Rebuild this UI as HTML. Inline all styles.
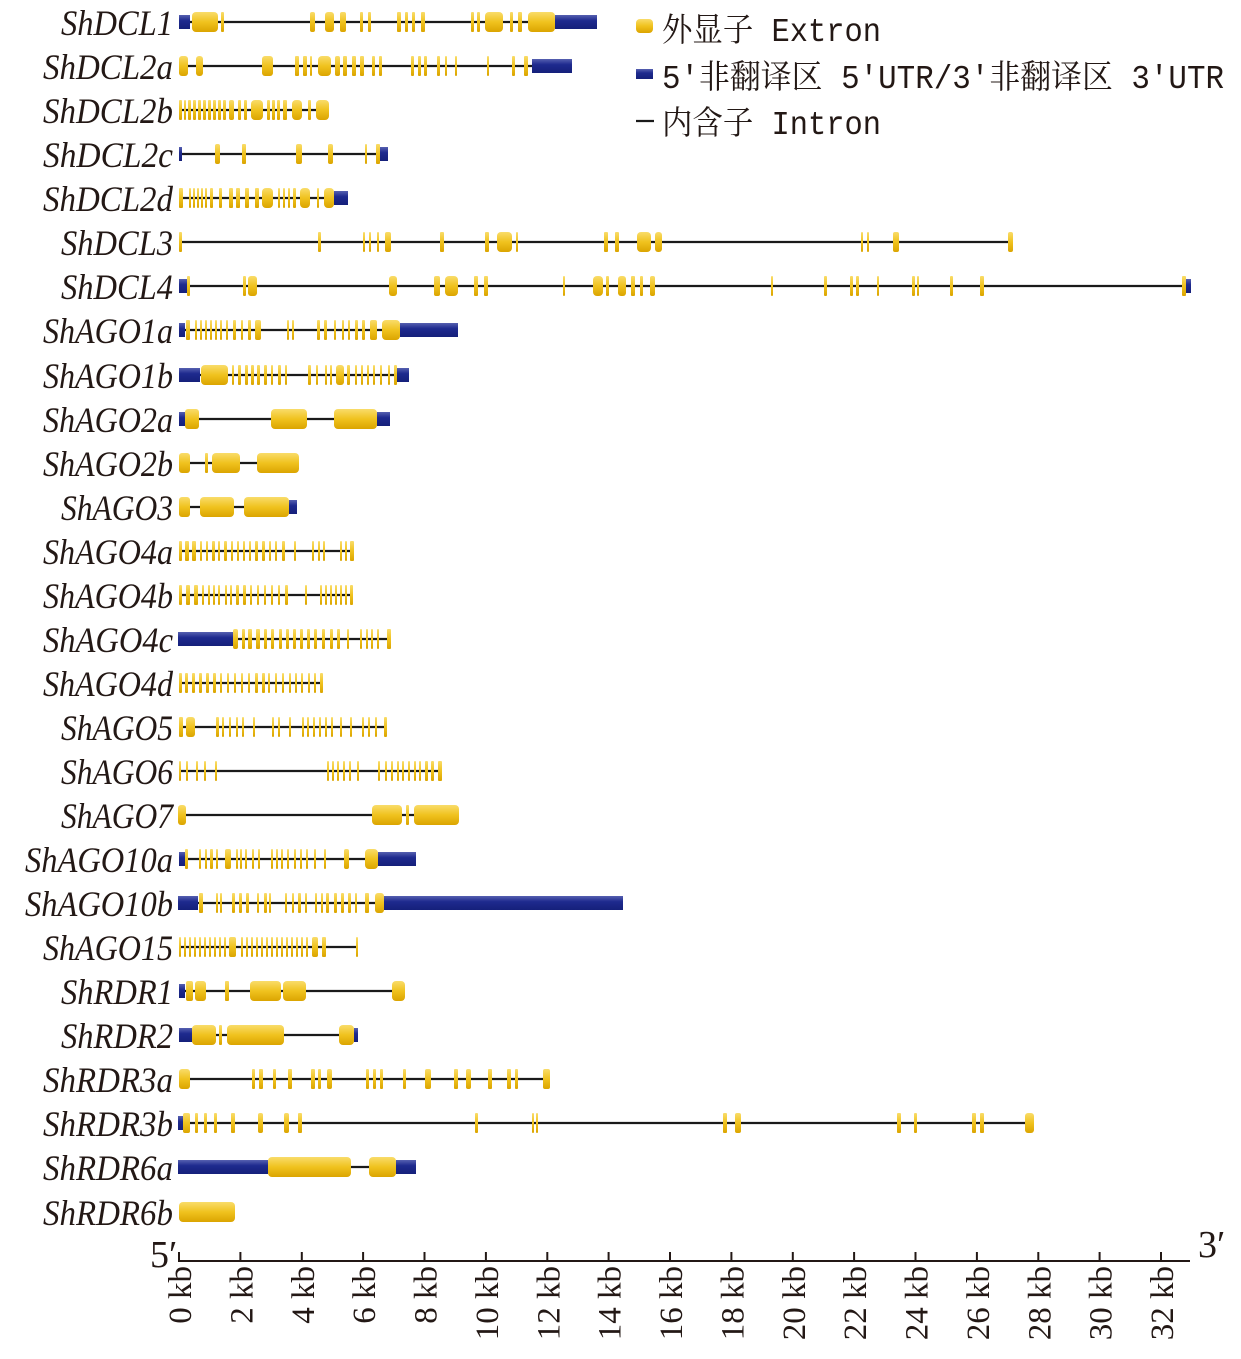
<!DOCTYPE html>
<html><head><meta charset="utf-8"><style>
html,body{margin:0;padding:0;background:#fff}
svg{display:block}
.e{fill:url(#gy)}
.u{fill:url(#gb)}
.l{stroke:#1a1a1a;stroke-width:2.2}
.g{font-family:"Liberation Serif",serif;font-style:italic;font-size:36px;fill:#231815}
.ax{font-family:"Liberation Serif",serif;font-size:33px;fill:#231815}
.lg{font-family:"Liberation Mono","Noto Serif CJK SC",monospace;font-size:33px;fill:#231815}
</style></head><body>
<svg width="1241" height="1359" viewBox="0 0 1241 1359" xmlns="http://www.w3.org/2000/svg">
<defs>
<linearGradient id="gy" x1="0" y1="0" x2="0" y2="1"><stop offset="0" stop-color="#f9dc6a"/><stop offset="0.5" stop-color="#f0c21e"/><stop offset="1" stop-color="#dba400"/></linearGradient>
<linearGradient id="gb" x1="0" y1="0" x2="0" y2="1"><stop offset="0" stop-color="#5660b0"/><stop offset="0.4" stop-color="#1e2a8e"/><stop offset="1" stop-color="#15207a"/></linearGradient>
</defs>

<!-- legend -->
<rect x="636" y="19" width="17" height="14" rx="4" class="e"/>
<text x="662" y="41" class="lg" textLength="219" lengthAdjust="spacingAndGlyphs">外显子 Extron</text>
<rect x="636" y="69" width="17" height="10" class="u"/>
<text x="662" y="88" class="lg" textLength="562" lengthAdjust="spacingAndGlyphs">5′非翻译区 5′UTR/3′非翻译区 3′UTR</text>
<line x1="636" y1="121" x2="654" y2="121" class="l"/>
<text x="662" y="134" class="lg" textLength="219" lengthAdjust="spacingAndGlyphs">内含子 Intron</text>

<!-- gene labels -->
<g class="g" lengthAdjust="spacingAndGlyphs">
<text x="61" y="35" textLength="112" lengthAdjust="spacingAndGlyphs">ShDCL1</text>
<text x="43" y="79" textLength="130" lengthAdjust="spacingAndGlyphs">ShDCL2a</text>
<text x="43" y="123" textLength="130" lengthAdjust="spacingAndGlyphs">ShDCL2b</text>
<text x="43" y="167" textLength="130" lengthAdjust="spacingAndGlyphs">ShDCL2c</text>
<text x="43" y="211" textLength="130" lengthAdjust="spacingAndGlyphs">ShDCL2d</text>
<text x="61" y="255" textLength="112" lengthAdjust="spacingAndGlyphs">ShDCL3</text>
<text x="61" y="299" textLength="112" lengthAdjust="spacingAndGlyphs">ShDCL4</text>
<text x="43" y="343" textLength="130" lengthAdjust="spacingAndGlyphs">ShAGO1a</text>
<text x="43" y="388" textLength="130" lengthAdjust="spacingAndGlyphs">ShAGO1b</text>
<text x="43" y="432" textLength="130" lengthAdjust="spacingAndGlyphs">ShAGO2a</text>
<text x="43" y="476" textLength="130" lengthAdjust="spacingAndGlyphs">ShAGO2b</text>
<text x="61" y="520" textLength="112" lengthAdjust="spacingAndGlyphs">ShAGO3</text>
<text x="43" y="564" textLength="130" lengthAdjust="spacingAndGlyphs">ShAGO4a</text>
<text x="43" y="608" textLength="130" lengthAdjust="spacingAndGlyphs">ShAGO4b</text>
<text x="43" y="652" textLength="130" lengthAdjust="spacingAndGlyphs">ShAGO4c</text>
<text x="43" y="696" textLength="130" lengthAdjust="spacingAndGlyphs">ShAGO4d</text>
<text x="61" y="740" textLength="112" lengthAdjust="spacingAndGlyphs">ShAGO5</text>
<text x="61" y="784" textLength="112" lengthAdjust="spacingAndGlyphs">ShAGO6</text>
<text x="61" y="828" textLength="112" lengthAdjust="spacingAndGlyphs">ShAGO7</text>
<text x="25" y="872" textLength="148" lengthAdjust="spacingAndGlyphs">ShAGO10a</text>
<text x="25" y="916" textLength="148" lengthAdjust="spacingAndGlyphs">ShAGO10b</text>
<text x="43" y="960" textLength="130" lengthAdjust="spacingAndGlyphs">ShAGO15</text>
<text x="61" y="1004" textLength="112" lengthAdjust="spacingAndGlyphs">ShRDR1</text>
<text x="61" y="1048" textLength="112" lengthAdjust="spacingAndGlyphs">ShRDR2</text>
<text x="43" y="1092" textLength="130" lengthAdjust="spacingAndGlyphs">ShRDR3a</text>
<text x="43" y="1136" textLength="130" lengthAdjust="spacingAndGlyphs">ShRDR3b</text>
<text x="43" y="1180" textLength="130" lengthAdjust="spacingAndGlyphs">ShRDR6a</text>
<text x="43" y="1225" textLength="130" lengthAdjust="spacingAndGlyphs">ShRDR6b</text>
</g>

<!-- ShDCL1 -->
<g transform="translate(0,22)">
<line x1="180" y1="0" x2="590" y2="0" class="l"/>
<rect x="179" y="-7" width="11" height="14" class="u"/>
<rect x="192" y="-10" width="26" height="20" rx="4" class="e"/>
<rect x="221" y="-10" width="3" height="20" rx="1" class="e"/>
<rect x="310" y="-10" width="5" height="20" rx="2" class="e"/>
<rect x="325" y="-10" width="9" height="20" rx="3" class="e"/>
<rect x="340" y="-10" width="6" height="20" rx="2" class="e"/>
<rect x="360" y="-10" width="3" height="20" rx="1" class="e"/>
<rect x="368" y="-10" width="3" height="20" rx="1" class="e"/>
<rect x="397" y="-10" width="4" height="20" rx="1" class="e"/>
<rect x="405" y="-10" width="3" height="20" rx="1" class="e"/>
<rect x="412" y="-10" width="3" height="20" rx="1" class="e"/>
<rect x="421" y="-10" width="4" height="20" rx="1" class="e"/>
<rect x="471" y="-10" width="3" height="20" rx="1" class="e"/>
<rect x="477" y="-10" width="3" height="20" rx="1" class="e"/>
<rect x="485" y="-10" width="18" height="20" rx="4" class="e"/>
<rect x="510" y="-10" width="3" height="20" rx="1" class="e"/>
<rect x="518" y="-10" width="4" height="20" rx="1" class="e"/>
<rect x="528" y="-10" width="27" height="20" rx="4" class="e"/>
<rect x="555" y="-7" width="42" height="14" class="u"/>
</g>
<!-- ShDCL2a -->
<g transform="translate(0,66)">
<line x1="180" y1="0" x2="532" y2="0" class="l"/>
<rect x="179" y="-10" width="9" height="20" rx="3" class="e"/>
<rect x="196" y="-10" width="7" height="20" rx="3" class="e"/>
<rect x="262" y="-10" width="11" height="20" rx="3" class="e"/>
<rect x="295" y="-10" width="4" height="20" rx="1" class="e"/>
<rect x="303" y="-10" width="4" height="20" rx="1" class="e"/>
<rect x="310" y="-10" width="2" height="20" rx="1" class="e"/>
<rect x="318" y="-10" width="13" height="20" rx="4" class="e"/>
<rect x="335" y="-10" width="5" height="20" rx="2" class="e"/>
<rect x="343" y="-10" width="4" height="20" rx="1" class="e"/>
<rect x="352" y="-10" width="4" height="20" rx="1" class="e"/>
<rect x="360" y="-10" width="4" height="20" rx="1" class="e"/>
<rect x="372" y="-10" width="3" height="20" rx="1" class="e"/>
<rect x="379" y="-10" width="3" height="20" rx="1" class="e"/>
<rect x="411" y="-10" width="3" height="20" rx="1" class="e"/>
<rect x="418" y="-10" width="3" height="20" rx="1" class="e"/>
<rect x="424" y="-10" width="3" height="20" rx="1" class="e"/>
<rect x="437" y="-10" width="3" height="20" rx="1" class="e"/>
<rect x="445" y="-10" width="2" height="20" rx="1" class="e"/>
<rect x="455" y="-10" width="2" height="20" rx="1" class="e"/>
<rect x="487" y="-10" width="2" height="20" rx="1" class="e"/>
<rect x="512" y="-10" width="3" height="20" rx="1" class="e"/>
<rect x="524" y="-10" width="4" height="20" rx="1" class="e"/>
<rect x="532" y="-7" width="40" height="14" class="u"/>
</g>
<!-- ShDCL2b -->
<g transform="translate(0,110)">
<line x1="180" y1="0" x2="322" y2="0" class="l"/>
<rect x="179" y="-10" width="3" height="20" rx="1" class="e"/>
<rect x="184" y="-10" width="2" height="20" rx="1" class="e"/>
<rect x="188" y="-10" width="3" height="20" rx="1" class="e"/>
<rect x="193" y="-10" width="3" height="20" rx="1" class="e"/>
<rect x="198" y="-10" width="3" height="20" rx="1" class="e"/>
<rect x="203" y="-10" width="3" height="20" rx="1" class="e"/>
<rect x="208" y="-10" width="3" height="20" rx="1" class="e"/>
<rect x="213" y="-10" width="3" height="20" rx="1" class="e"/>
<rect x="218" y="-10" width="3" height="20" rx="1" class="e"/>
<rect x="223" y="-10" width="3" height="20" rx="1" class="e"/>
<rect x="229" y="-10" width="5" height="20" rx="2" class="e"/>
<rect x="238" y="-10" width="3" height="20" rx="1" class="e"/>
<rect x="244" y="-10" width="3" height="20" rx="1" class="e"/>
<rect x="251" y="-10" width="12" height="20" rx="4" class="e"/>
<rect x="267" y="-10" width="3" height="20" rx="1" class="e"/>
<rect x="272" y="-10" width="3" height="20" rx="1" class="e"/>
<rect x="277" y="-10" width="3" height="20" rx="1" class="e"/>
<rect x="283" y="-10" width="4" height="20" rx="1" class="e"/>
<rect x="292" y="-10" width="10" height="20" rx="4" class="e"/>
<rect x="308" y="-10" width="3" height="20" rx="1" class="e"/>
<rect x="316" y="-10" width="13" height="20" rx="4" class="e"/>
</g>
<!-- ShDCL2c -->
<g transform="translate(0,154)">
<line x1="180" y1="0" x2="380" y2="0" class="l"/>
<rect x="179" y="-7" width="3" height="14" class="u"/>
<rect x="215" y="-10" width="5" height="20" rx="2" class="e"/>
<rect x="242" y="-10" width="4" height="20" rx="1" class="e"/>
<rect x="296" y="-10" width="6" height="20" rx="2" class="e"/>
<rect x="328" y="-10" width="5" height="20" rx="2" class="e"/>
<rect x="365" y="-10" width="2" height="20" rx="1" class="e"/>
<rect x="376" y="-10" width="4" height="20" rx="1" class="e"/>
<rect x="380" y="-7" width="8" height="14" class="u"/>
</g>
<!-- ShDCL2d -->
<g transform="translate(0,198)">
<line x1="180" y1="0" x2="334" y2="0" class="l"/>
<rect x="179" y="-10" width="4" height="20" rx="1" class="e"/>
<rect x="189" y="-10" width="2" height="20" rx="1" class="e"/>
<rect x="193" y="-10" width="2" height="20" rx="1" class="e"/>
<rect x="197" y="-10" width="2" height="20" rx="1" class="e"/>
<rect x="201" y="-10" width="2" height="20" rx="1" class="e"/>
<rect x="205" y="-10" width="2" height="20" rx="1" class="e"/>
<rect x="210" y="-10" width="3" height="20" rx="1" class="e"/>
<rect x="219" y="-10" width="3" height="20" rx="1" class="e"/>
<rect x="229" y="-10" width="4" height="20" rx="1" class="e"/>
<rect x="236" y="-10" width="4" height="20" rx="1" class="e"/>
<rect x="245" y="-10" width="4" height="20" rx="1" class="e"/>
<rect x="255" y="-10" width="4" height="20" rx="1" class="e"/>
<rect x="262" y="-10" width="11" height="20" rx="4" class="e"/>
<rect x="278" y="-10" width="2" height="20" rx="1" class="e"/>
<rect x="283" y="-10" width="2" height="20" rx="1" class="e"/>
<rect x="288" y="-10" width="2" height="20" rx="1" class="e"/>
<rect x="293" y="-10" width="3" height="20" rx="1" class="e"/>
<rect x="300" y="-10" width="10" height="20" rx="4" class="e"/>
<rect x="317" y="-10" width="2" height="20" rx="1" class="e"/>
<rect x="324" y="-10" width="10" height="20" rx="4" class="e"/>
<rect x="334" y="-7" width="14" height="14" class="u"/>
</g>
<!-- ShDCL3 -->
<g transform="translate(0,242)">
<line x1="180" y1="0" x2="1010" y2="0" class="l"/>
<rect x="179" y="-10" width="3" height="20" rx="1" class="e"/>
<rect x="318" y="-10" width="3" height="20" rx="1" class="e"/>
<rect x="363" y="-10" width="2" height="20" rx="1" class="e"/>
<rect x="369" y="-10" width="2" height="20" rx="1" class="e"/>
<rect x="377" y="-10" width="2" height="20" rx="1" class="e"/>
<rect x="385" y="-10" width="6" height="20" rx="2" class="e"/>
<rect x="440" y="-10" width="4" height="20" rx="1" class="e"/>
<rect x="485" y="-10" width="4" height="20" rx="1" class="e"/>
<rect x="497" y="-10" width="15" height="20" rx="4" class="e"/>
<rect x="516" y="-10" width="2" height="20" rx="1" class="e"/>
<rect x="604" y="-10" width="4" height="20" rx="1" class="e"/>
<rect x="615" y="-10" width="4" height="20" rx="1" class="e"/>
<rect x="637" y="-10" width="14" height="20" rx="4" class="e"/>
<rect x="655" y="-10" width="7" height="20" rx="3" class="e"/>
<rect x="861" y="-10" width="2" height="20" rx="1" class="e"/>
<rect x="867" y="-10" width="2" height="20" rx="1" class="e"/>
<rect x="893" y="-10" width="6" height="20" rx="2" class="e"/>
<rect x="1008" y="-10" width="5" height="20" rx="2" class="e"/>
</g>
<!-- ShDCL4 -->
<g transform="translate(0,286)">
<line x1="180" y1="0" x2="1186" y2="0" class="l"/>
<rect x="179" y="-7" width="8" height="14" class="u"/>
<rect x="187" y="-10" width="3" height="20" rx="1" class="e"/>
<rect x="243" y="-10" width="3" height="20" rx="1" class="e"/>
<rect x="248" y="-10" width="9" height="20" rx="3" class="e"/>
<rect x="389" y="-10" width="8" height="20" rx="3" class="e"/>
<rect x="434" y="-10" width="6" height="20" rx="2" class="e"/>
<rect x="445" y="-10" width="13" height="20" rx="4" class="e"/>
<rect x="474" y="-10" width="4" height="20" rx="1" class="e"/>
<rect x="484" y="-10" width="4" height="20" rx="1" class="e"/>
<rect x="563" y="-10" width="2" height="20" rx="1" class="e"/>
<rect x="593" y="-10" width="10" height="20" rx="4" class="e"/>
<rect x="606" y="-10" width="3" height="20" rx="1" class="e"/>
<rect x="618" y="-10" width="8" height="20" rx="3" class="e"/>
<rect x="631" y="-10" width="4" height="20" rx="1" class="e"/>
<rect x="640" y="-10" width="3" height="20" rx="1" class="e"/>
<rect x="650" y="-10" width="5" height="20" rx="2" class="e"/>
<rect x="771" y="-10" width="2" height="20" rx="1" class="e"/>
<rect x="824" y="-10" width="3" height="20" rx="1" class="e"/>
<rect x="850" y="-10" width="3" height="20" rx="1" class="e"/>
<rect x="856" y="-10" width="3" height="20" rx="1" class="e"/>
<rect x="877" y="-10" width="2" height="20" rx="1" class="e"/>
<rect x="912" y="-10" width="3" height="20" rx="1" class="e"/>
<rect x="917" y="-10" width="2" height="20" rx="1" class="e"/>
<rect x="950" y="-10" width="3" height="20" rx="1" class="e"/>
<rect x="980" y="-10" width="4" height="20" rx="1" class="e"/>
<rect x="1182" y="-10" width="4" height="20" rx="1" class="e"/>
<rect x="1186" y="-7" width="5" height="14" class="u"/>
</g>
<!-- ShAGO1a -->
<g transform="translate(0,330)">
<line x1="180" y1="0" x2="382" y2="0" class="l"/>
<rect x="179" y="-7" width="6" height="14" class="u"/>
<rect x="186" y="-10" width="4" height="20" rx="1" class="e"/>
<rect x="195" y="-10" width="2" height="20" rx="1" class="e"/>
<rect x="200" y="-10" width="2" height="20" rx="1" class="e"/>
<rect x="205" y="-10" width="2" height="20" rx="1" class="e"/>
<rect x="210" y="-10" width="2" height="20" rx="1" class="e"/>
<rect x="215" y="-10" width="2" height="20" rx="1" class="e"/>
<rect x="220" y="-10" width="2" height="20" rx="1" class="e"/>
<rect x="226" y="-10" width="2" height="20" rx="1" class="e"/>
<rect x="233" y="-10" width="3" height="20" rx="1" class="e"/>
<rect x="241" y="-10" width="2" height="20" rx="1" class="e"/>
<rect x="248" y="-10" width="3" height="20" rx="1" class="e"/>
<rect x="255" y="-10" width="6" height="20" rx="2" class="e"/>
<rect x="287" y="-10" width="2" height="20" rx="1" class="e"/>
<rect x="292" y="-10" width="2" height="20" rx="1" class="e"/>
<rect x="317" y="-10" width="3" height="20" rx="1" class="e"/>
<rect x="324" y="-10" width="3" height="20" rx="1" class="e"/>
<rect x="334" y="-10" width="2" height="20" rx="1" class="e"/>
<rect x="342" y="-10" width="2" height="20" rx="1" class="e"/>
<rect x="348" y="-10" width="2" height="20" rx="1" class="e"/>
<rect x="355" y="-10" width="3" height="20" rx="1" class="e"/>
<rect x="362" y="-10" width="3" height="20" rx="1" class="e"/>
<rect x="370" y="-10" width="7" height="20" rx="2" class="e"/>
<rect x="382" y="-10" width="18" height="20" rx="4" class="e"/>
<rect x="400" y="-7" width="58" height="14" class="u"/>
</g>
<!-- ShAGO1b -->
<g transform="translate(0,375)">
<line x1="180" y1="0" x2="397" y2="0" class="l"/>
<rect x="179" y="-7" width="21" height="14" class="u"/>
<rect x="201" y="-10" width="27" height="20" rx="4" class="e"/>
<rect x="232" y="-10" width="2" height="20" rx="1" class="e"/>
<rect x="238" y="-10" width="3" height="20" rx="1" class="e"/>
<rect x="245" y="-10" width="3" height="20" rx="1" class="e"/>
<rect x="251" y="-10" width="3" height="20" rx="1" class="e"/>
<rect x="257" y="-10" width="3" height="20" rx="1" class="e"/>
<rect x="264" y="-10" width="3" height="20" rx="1" class="e"/>
<rect x="271" y="-10" width="2" height="20" rx="1" class="e"/>
<rect x="278" y="-10" width="3" height="20" rx="1" class="e"/>
<rect x="285" y="-10" width="2" height="20" rx="1" class="e"/>
<rect x="308" y="-10" width="3" height="20" rx="1" class="e"/>
<rect x="316" y="-10" width="2" height="20" rx="1" class="e"/>
<rect x="325" y="-10" width="2" height="20" rx="1" class="e"/>
<rect x="330" y="-10" width="2" height="20" rx="1" class="e"/>
<rect x="336" y="-10" width="8" height="20" rx="3" class="e"/>
<rect x="347" y="-10" width="3" height="20" rx="1" class="e"/>
<rect x="355" y="-10" width="2" height="20" rx="1" class="e"/>
<rect x="361" y="-10" width="2" height="20" rx="1" class="e"/>
<rect x="367" y="-10" width="2" height="20" rx="1" class="e"/>
<rect x="373" y="-10" width="2" height="20" rx="1" class="e"/>
<rect x="380" y="-10" width="2" height="20" rx="1" class="e"/>
<rect x="388" y="-10" width="2" height="20" rx="1" class="e"/>
<rect x="394" y="-10" width="3" height="20" rx="1" class="e"/>
<rect x="397" y="-7" width="12" height="14" class="u"/>
</g>
<!-- ShAGO2a -->
<g transform="translate(0,419)">
<line x1="180" y1="0" x2="377" y2="0" class="l"/>
<rect x="179" y="-7" width="6" height="14" class="u"/>
<rect x="185" y="-10" width="14" height="20" rx="3" class="e"/>
<rect x="271" y="-10" width="36" height="20" rx="4" class="e"/>
<rect x="334" y="-10" width="43" height="20" rx="4" class="e"/>
<rect x="377" y="-7" width="13" height="14" class="u"/>
</g>
<!-- ShAGO2b -->
<g transform="translate(0,463)">
<line x1="180" y1="0" x2="260" y2="0" class="l"/>
<rect x="179" y="-10" width="11" height="20" rx="3" class="e"/>
<rect x="205" y="-10" width="3" height="20" rx="1" class="e"/>
<rect x="212" y="-10" width="28" height="20" rx="4" class="e"/>
<rect x="257" y="-10" width="42" height="20" rx="4" class="e"/>
</g>
<!-- ShAGO3 -->
<g transform="translate(0,507)">
<line x1="180" y1="0" x2="289" y2="0" class="l"/>
<rect x="179" y="-10" width="11" height="20" rx="3" class="e"/>
<rect x="200" y="-10" width="34" height="20" rx="4" class="e"/>
<rect x="244" y="-10" width="45" height="20" rx="4" class="e"/>
<rect x="289" y="-7" width="8" height="14" class="u"/>
</g>
<!-- ShAGO4a -->
<g transform="translate(0,551)">
<line x1="180" y1="0" x2="352" y2="0" class="l"/>
<rect x="179" y="-10" width="3" height="20" rx="1" class="e"/>
<rect x="185" y="-10" width="4" height="20" rx="1" class="e"/>
<rect x="192" y="-10" width="4" height="20" rx="1" class="e"/>
<rect x="200" y="-10" width="2" height="20" rx="1" class="e"/>
<rect x="206" y="-10" width="2" height="20" rx="1" class="e"/>
<rect x="212" y="-10" width="3" height="20" rx="1" class="e"/>
<rect x="218" y="-10" width="2" height="20" rx="1" class="e"/>
<rect x="224" y="-10" width="3" height="20" rx="1" class="e"/>
<rect x="231" y="-10" width="2" height="20" rx="1" class="e"/>
<rect x="237" y="-10" width="2" height="20" rx="1" class="e"/>
<rect x="243" y="-10" width="2" height="20" rx="1" class="e"/>
<rect x="249" y="-10" width="2" height="20" rx="1" class="e"/>
<rect x="255" y="-10" width="3" height="20" rx="1" class="e"/>
<rect x="262" y="-10" width="3" height="20" rx="1" class="e"/>
<rect x="269" y="-10" width="2" height="20" rx="1" class="e"/>
<rect x="275" y="-10" width="2" height="20" rx="1" class="e"/>
<rect x="282" y="-10" width="3" height="20" rx="1" class="e"/>
<rect x="294" y="-10" width="2" height="20" rx="1" class="e"/>
<rect x="312" y="-10" width="2" height="20" rx="1" class="e"/>
<rect x="318" y="-10" width="2" height="20" rx="1" class="e"/>
<rect x="323" y="-10" width="2" height="20" rx="1" class="e"/>
<rect x="340" y="-10" width="2" height="20" rx="1" class="e"/>
<rect x="345" y="-10" width="2" height="20" rx="1" class="e"/>
<rect x="350" y="-10" width="4" height="20" rx="1" class="e"/>
</g>
<!-- ShAGO4b -->
<g transform="translate(0,595)">
<line x1="180" y1="0" x2="352" y2="0" class="l"/>
<rect x="179" y="-10" width="3" height="20" rx="1" class="e"/>
<rect x="186" y="-10" width="4" height="20" rx="1" class="e"/>
<rect x="194" y="-10" width="4" height="20" rx="1" class="e"/>
<rect x="202" y="-10" width="2" height="20" rx="1" class="e"/>
<rect x="208" y="-10" width="2" height="20" rx="1" class="e"/>
<rect x="213" y="-10" width="2" height="20" rx="1" class="e"/>
<rect x="218" y="-10" width="2" height="20" rx="1" class="e"/>
<rect x="225" y="-10" width="2" height="20" rx="1" class="e"/>
<rect x="230" y="-10" width="2" height="20" rx="1" class="e"/>
<rect x="236" y="-10" width="3" height="20" rx="1" class="e"/>
<rect x="243" y="-10" width="3" height="20" rx="1" class="e"/>
<rect x="250" y="-10" width="2" height="20" rx="1" class="e"/>
<rect x="257" y="-10" width="2" height="20" rx="1" class="e"/>
<rect x="264" y="-10" width="2" height="20" rx="1" class="e"/>
<rect x="271" y="-10" width="2" height="20" rx="1" class="e"/>
<rect x="278" y="-10" width="2" height="20" rx="1" class="e"/>
<rect x="285" y="-10" width="3" height="20" rx="1" class="e"/>
<rect x="305" y="-10" width="2" height="20" rx="1" class="e"/>
<rect x="320" y="-10" width="2" height="20" rx="1" class="e"/>
<rect x="325" y="-10" width="2" height="20" rx="1" class="e"/>
<rect x="330" y="-10" width="2" height="20" rx="1" class="e"/>
<rect x="335" y="-10" width="2" height="20" rx="1" class="e"/>
<rect x="340" y="-10" width="2" height="20" rx="1" class="e"/>
<rect x="345" y="-10" width="2" height="20" rx="1" class="e"/>
<rect x="350" y="-10" width="3" height="20" rx="1" class="e"/>
</g>
<!-- ShAGO4c -->
<g transform="translate(0,639)">
<line x1="232" y1="0" x2="390" y2="0" class="l"/>
<rect x="178" y="-7" width="55" height="14" class="u"/>
<rect x="233" y="-10" width="5" height="20" rx="2" class="e"/>
<rect x="242" y="-10" width="3" height="20" rx="1" class="e"/>
<rect x="248" y="-10" width="4" height="20" rx="1" class="e"/>
<rect x="256" y="-10" width="4" height="20" rx="1" class="e"/>
<rect x="264" y="-10" width="3" height="20" rx="1" class="e"/>
<rect x="271" y="-10" width="3" height="20" rx="1" class="e"/>
<rect x="279" y="-10" width="3" height="20" rx="1" class="e"/>
<rect x="286" y="-10" width="3" height="20" rx="1" class="e"/>
<rect x="293" y="-10" width="3" height="20" rx="1" class="e"/>
<rect x="300" y="-10" width="3" height="20" rx="1" class="e"/>
<rect x="307" y="-10" width="3" height="20" rx="1" class="e"/>
<rect x="314" y="-10" width="3" height="20" rx="1" class="e"/>
<rect x="322" y="-10" width="3" height="20" rx="1" class="e"/>
<rect x="330" y="-10" width="3" height="20" rx="1" class="e"/>
<rect x="337" y="-10" width="3" height="20" rx="1" class="e"/>
<rect x="347" y="-10" width="2" height="20" rx="1" class="e"/>
<rect x="360" y="-10" width="2" height="20" rx="1" class="e"/>
<rect x="366" y="-10" width="2" height="20" rx="1" class="e"/>
<rect x="371" y="-10" width="2" height="20" rx="1" class="e"/>
<rect x="377" y="-10" width="2" height="20" rx="1" class="e"/>
<rect x="387" y="-10" width="4" height="20" rx="1" class="e"/>
</g>
<!-- ShAGO4d -->
<g transform="translate(0,683)">
<line x1="180" y1="0" x2="322" y2="0" class="l"/>
<rect x="179" y="-10" width="3" height="20" rx="1" class="e"/>
<rect x="185" y="-10" width="3" height="20" rx="1" class="e"/>
<rect x="192" y="-10" width="3" height="20" rx="1" class="e"/>
<rect x="199" y="-10" width="3" height="20" rx="1" class="e"/>
<rect x="206" y="-10" width="3" height="20" rx="1" class="e"/>
<rect x="213" y="-10" width="3" height="20" rx="1" class="e"/>
<rect x="220" y="-10" width="2" height="20" rx="1" class="e"/>
<rect x="227" y="-10" width="2" height="20" rx="1" class="e"/>
<rect x="234" y="-10" width="2" height="20" rx="1" class="e"/>
<rect x="241" y="-10" width="2" height="20" rx="1" class="e"/>
<rect x="248" y="-10" width="2" height="20" rx="1" class="e"/>
<rect x="255" y="-10" width="3" height="20" rx="1" class="e"/>
<rect x="262" y="-10" width="3" height="20" rx="1" class="e"/>
<rect x="268" y="-10" width="2" height="20" rx="1" class="e"/>
<rect x="275" y="-10" width="2" height="20" rx="1" class="e"/>
<rect x="282" y="-10" width="2" height="20" rx="1" class="e"/>
<rect x="289" y="-10" width="2" height="20" rx="1" class="e"/>
<rect x="295" y="-10" width="2" height="20" rx="1" class="e"/>
<rect x="301" y="-10" width="2" height="20" rx="1" class="e"/>
<rect x="308" y="-10" width="2" height="20" rx="1" class="e"/>
<rect x="314" y="-10" width="2" height="20" rx="1" class="e"/>
<rect x="320" y="-10" width="3" height="20" rx="1" class="e"/>
</g>
<!-- ShAGO5 -->
<g transform="translate(0,727)">
<line x1="180" y1="0" x2="386" y2="0" class="l"/>
<rect x="179" y="-10" width="4" height="20" rx="1" class="e"/>
<rect x="186" y="-10" width="9" height="20" rx="3" class="e"/>
<rect x="216" y="-10" width="3" height="20" rx="1" class="e"/>
<rect x="222" y="-10" width="2" height="20" rx="1" class="e"/>
<rect x="229" y="-10" width="2" height="20" rx="1" class="e"/>
<rect x="236" y="-10" width="2" height="20" rx="1" class="e"/>
<rect x="242" y="-10" width="2" height="20" rx="1" class="e"/>
<rect x="253" y="-10" width="2" height="20" rx="1" class="e"/>
<rect x="272" y="-10" width="2" height="20" rx="1" class="e"/>
<rect x="278" y="-10" width="2" height="20" rx="1" class="e"/>
<rect x="289" y="-10" width="2" height="20" rx="1" class="e"/>
<rect x="302" y="-10" width="2" height="20" rx="1" class="e"/>
<rect x="307" y="-10" width="2" height="20" rx="1" class="e"/>
<rect x="313" y="-10" width="2" height="20" rx="1" class="e"/>
<rect x="319" y="-10" width="2" height="20" rx="1" class="e"/>
<rect x="325" y="-10" width="2" height="20" rx="1" class="e"/>
<rect x="331" y="-10" width="2" height="20" rx="1" class="e"/>
<rect x="340" y="-10" width="2" height="20" rx="1" class="e"/>
<rect x="350" y="-10" width="2" height="20" rx="1" class="e"/>
<rect x="362" y="-10" width="2" height="20" rx="1" class="e"/>
<rect x="368" y="-10" width="2" height="20" rx="1" class="e"/>
<rect x="375" y="-10" width="2" height="20" rx="1" class="e"/>
<rect x="384" y="-10" width="3" height="20" rx="1" class="e"/>
</g>
<!-- ShAGO6 -->
<g transform="translate(0,771)">
<line x1="180" y1="0" x2="440" y2="0" class="l"/>
<rect x="179" y="-10" width="2" height="20" rx="1" class="e"/>
<rect x="186" y="-10" width="2" height="20" rx="1" class="e"/>
<rect x="196" y="-10" width="2" height="20" rx="1" class="e"/>
<rect x="204" y="-10" width="2" height="20" rx="1" class="e"/>
<rect x="215" y="-10" width="2" height="20" rx="1" class="e"/>
<rect x="327" y="-10" width="2" height="20" rx="1" class="e"/>
<rect x="332" y="-10" width="2" height="20" rx="1" class="e"/>
<rect x="337" y="-10" width="2" height="20" rx="1" class="e"/>
<rect x="343" y="-10" width="2" height="20" rx="1" class="e"/>
<rect x="349" y="-10" width="2" height="20" rx="1" class="e"/>
<rect x="357" y="-10" width="2" height="20" rx="1" class="e"/>
<rect x="378" y="-10" width="2" height="20" rx="1" class="e"/>
<rect x="385" y="-10" width="2" height="20" rx="1" class="e"/>
<rect x="391" y="-10" width="2" height="20" rx="1" class="e"/>
<rect x="397" y="-10" width="2" height="20" rx="1" class="e"/>
<rect x="402" y="-10" width="2" height="20" rx="1" class="e"/>
<rect x="408" y="-10" width="2" height="20" rx="1" class="e"/>
<rect x="414" y="-10" width="2" height="20" rx="1" class="e"/>
<rect x="419" y="-10" width="2" height="20" rx="1" class="e"/>
<rect x="425" y="-10" width="3" height="20" rx="1" class="e"/>
<rect x="431" y="-10" width="3" height="20" rx="1" class="e"/>
<rect x="438" y="-10" width="4" height="20" rx="1" class="e"/>
</g>
<!-- ShAGO7 -->
<g transform="translate(0,815)">
<line x1="180" y1="0" x2="414" y2="0" class="l"/>
<rect x="178" y="-10" width="8" height="20" rx="3" class="e"/>
<rect x="372" y="-10" width="30" height="20" rx="4" class="e"/>
<rect x="406" y="-10" width="3" height="20" rx="1" class="e"/>
<rect x="414" y="-10" width="45" height="20" rx="4" class="e"/>
</g>
<!-- ShAGO10a -->
<g transform="translate(0,859)">
<line x1="180" y1="0" x2="378" y2="0" class="l"/>
<rect x="179" y="-7" width="6" height="14" class="u"/>
<rect x="185" y="-10" width="3" height="20" rx="1" class="e"/>
<rect x="199" y="-10" width="2" height="20" rx="1" class="e"/>
<rect x="205" y="-10" width="2" height="20" rx="1" class="e"/>
<rect x="210" y="-10" width="3" height="20" rx="1" class="e"/>
<rect x="216" y="-10" width="2" height="20" rx="1" class="e"/>
<rect x="225" y="-10" width="6" height="20" rx="2" class="e"/>
<rect x="236" y="-10" width="2" height="20" rx="1" class="e"/>
<rect x="240" y="-10" width="2" height="20" rx="1" class="e"/>
<rect x="245" y="-10" width="2" height="20" rx="1" class="e"/>
<rect x="252" y="-10" width="2" height="20" rx="1" class="e"/>
<rect x="258" y="-10" width="2" height="20" rx="1" class="e"/>
<rect x="271" y="-10" width="2" height="20" rx="1" class="e"/>
<rect x="276" y="-10" width="2" height="20" rx="1" class="e"/>
<rect x="281" y="-10" width="2" height="20" rx="1" class="e"/>
<rect x="287" y="-10" width="2" height="20" rx="1" class="e"/>
<rect x="294" y="-10" width="2" height="20" rx="1" class="e"/>
<rect x="300" y="-10" width="2" height="20" rx="1" class="e"/>
<rect x="306" y="-10" width="2" height="20" rx="1" class="e"/>
<rect x="314" y="-10" width="2" height="20" rx="1" class="e"/>
<rect x="324" y="-10" width="2" height="20" rx="1" class="e"/>
<rect x="344" y="-10" width="5" height="20" rx="2" class="e"/>
<rect x="365" y="-10" width="13" height="20" rx="4" class="e"/>
<rect x="378" y="-7" width="38" height="14" class="u"/>
</g>
<!-- ShAGO10b -->
<g transform="translate(0,903)">
<line x1="180" y1="0" x2="384" y2="0" class="l"/>
<rect x="178" y="-7" width="20" height="14" class="u"/>
<rect x="199" y="-10" width="4" height="20" rx="1" class="e"/>
<rect x="216" y="-10" width="2" height="20" rx="1" class="e"/>
<rect x="220" y="-10" width="2" height="20" rx="1" class="e"/>
<rect x="232" y="-10" width="3" height="20" rx="1" class="e"/>
<rect x="239" y="-10" width="3" height="20" rx="1" class="e"/>
<rect x="246" y="-10" width="3" height="20" rx="1" class="e"/>
<rect x="257" y="-10" width="2" height="20" rx="1" class="e"/>
<rect x="264" y="-10" width="3" height="20" rx="1" class="e"/>
<rect x="269" y="-10" width="2" height="20" rx="1" class="e"/>
<rect x="285" y="-10" width="2" height="20" rx="1" class="e"/>
<rect x="292" y="-10" width="2" height="20" rx="1" class="e"/>
<rect x="298" y="-10" width="3" height="20" rx="1" class="e"/>
<rect x="305" y="-10" width="2" height="20" rx="1" class="e"/>
<rect x="315" y="-10" width="2" height="20" rx="1" class="e"/>
<rect x="321" y="-10" width="2" height="20" rx="1" class="e"/>
<rect x="326" y="-10" width="3" height="20" rx="1" class="e"/>
<rect x="334" y="-10" width="3" height="20" rx="1" class="e"/>
<rect x="341" y="-10" width="3" height="20" rx="1" class="e"/>
<rect x="348" y="-10" width="3" height="20" rx="1" class="e"/>
<rect x="355" y="-10" width="2" height="20" rx="1" class="e"/>
<rect x="365" y="-10" width="4" height="20" rx="1" class="e"/>
<rect x="375" y="-10" width="9" height="20" rx="3" class="e"/>
<rect x="384" y="-7" width="239" height="14" class="u"/>
</g>
<!-- ShAGO15 -->
<g transform="translate(0,947)">
<line x1="180" y1="0" x2="357" y2="0" class="l"/>
<rect x="179" y="-10" width="2" height="20" rx="1" class="e"/>
<rect x="184" y="-10" width="2" height="20" rx="1" class="e"/>
<rect x="189" y="-10" width="2" height="20" rx="1" class="e"/>
<rect x="194" y="-10" width="2" height="20" rx="1" class="e"/>
<rect x="199" y="-10" width="2" height="20" rx="1" class="e"/>
<rect x="204" y="-10" width="2" height="20" rx="1" class="e"/>
<rect x="209" y="-10" width="2" height="20" rx="1" class="e"/>
<rect x="214" y="-10" width="2" height="20" rx="1" class="e"/>
<rect x="219" y="-10" width="2" height="20" rx="1" class="e"/>
<rect x="224" y="-10" width="2" height="20" rx="1" class="e"/>
<rect x="229" y="-10" width="7" height="20" rx="2" class="e"/>
<rect x="241" y="-10" width="2" height="20" rx="1" class="e"/>
<rect x="246" y="-10" width="2" height="20" rx="1" class="e"/>
<rect x="251" y="-10" width="2" height="20" rx="1" class="e"/>
<rect x="256" y="-10" width="2" height="20" rx="1" class="e"/>
<rect x="261" y="-10" width="2" height="20" rx="1" class="e"/>
<rect x="266" y="-10" width="2" height="20" rx="1" class="e"/>
<rect x="271" y="-10" width="2" height="20" rx="1" class="e"/>
<rect x="276" y="-10" width="2" height="20" rx="1" class="e"/>
<rect x="281" y="-10" width="2" height="20" rx="1" class="e"/>
<rect x="286" y="-10" width="2" height="20" rx="1" class="e"/>
<rect x="291" y="-10" width="2" height="20" rx="1" class="e"/>
<rect x="296" y="-10" width="2" height="20" rx="1" class="e"/>
<rect x="301" y="-10" width="2" height="20" rx="1" class="e"/>
<rect x="306" y="-10" width="2" height="20" rx="1" class="e"/>
<rect x="312" y="-10" width="6" height="20" rx="2" class="e"/>
<rect x="322" y="-10" width="4" height="20" rx="1" class="e"/>
<rect x="356" y="-10" width="2" height="20" rx="1" class="e"/>
</g>
<!-- ShRDR1 -->
<g transform="translate(0,991)">
<line x1="180" y1="0" x2="394" y2="0" class="l"/>
<rect x="179" y="-7" width="6" height="14" class="u"/>
<rect x="186" y="-10" width="7" height="20" rx="2" class="e"/>
<rect x="195" y="-10" width="11" height="20" rx="3" class="e"/>
<rect x="225" y="-10" width="4" height="20" rx="1" class="e"/>
<rect x="250" y="-10" width="31" height="20" rx="4" class="e"/>
<rect x="283" y="-10" width="23" height="20" rx="4" class="e"/>
<rect x="392" y="-10" width="13" height="20" rx="4" class="e"/>
</g>
<!-- ShRDR2 -->
<g transform="translate(0,1035)">
<line x1="180" y1="0" x2="340" y2="0" class="l"/>
<rect x="179" y="-7" width="13" height="14" class="u"/>
<rect x="192" y="-10" width="24" height="20" rx="4" class="e"/>
<rect x="219" y="-10" width="3" height="20" rx="1" class="e"/>
<rect x="227" y="-10" width="57" height="20" rx="4" class="e"/>
<rect x="339" y="-10" width="15" height="20" rx="4" class="e"/>
<rect x="354" y="-7" width="4" height="14" class="u"/>
</g>
<!-- ShRDR3a -->
<g transform="translate(0,1079)">
<line x1="180" y1="0" x2="546" y2="0" class="l"/>
<rect x="179" y="-10" width="11" height="20" rx="3" class="e"/>
<rect x="252" y="-10" width="3" height="20" rx="1" class="e"/>
<rect x="259" y="-10" width="4" height="20" rx="1" class="e"/>
<rect x="273" y="-10" width="3" height="20" rx="1" class="e"/>
<rect x="288" y="-10" width="4" height="20" rx="1" class="e"/>
<rect x="311" y="-10" width="4" height="20" rx="1" class="e"/>
<rect x="318" y="-10" width="3" height="20" rx="1" class="e"/>
<rect x="327" y="-10" width="5" height="20" rx="2" class="e"/>
<rect x="366" y="-10" width="3" height="20" rx="1" class="e"/>
<rect x="373" y="-10" width="3" height="20" rx="1" class="e"/>
<rect x="380" y="-10" width="3" height="20" rx="1" class="e"/>
<rect x="403" y="-10" width="3" height="20" rx="1" class="e"/>
<rect x="425" y="-10" width="6" height="20" rx="2" class="e"/>
<rect x="454" y="-10" width="4" height="20" rx="1" class="e"/>
<rect x="466" y="-10" width="5" height="20" rx="2" class="e"/>
<rect x="488" y="-10" width="4" height="20" rx="1" class="e"/>
<rect x="507" y="-10" width="4" height="20" rx="1" class="e"/>
<rect x="515" y="-10" width="3" height="20" rx="1" class="e"/>
<rect x="543" y="-10" width="7" height="20" rx="2" class="e"/>
</g>
<!-- ShRDR3b -->
<g transform="translate(0,1123)">
<line x1="180" y1="0" x2="1028" y2="0" class="l"/>
<rect x="178" y="-7" width="5" height="14" class="u"/>
<rect x="183" y="-10" width="7" height="20" rx="2" class="e"/>
<rect x="195" y="-10" width="3" height="20" rx="1" class="e"/>
<rect x="204" y="-10" width="3" height="20" rx="1" class="e"/>
<rect x="214" y="-10" width="3" height="20" rx="1" class="e"/>
<rect x="231" y="-10" width="4" height="20" rx="1" class="e"/>
<rect x="258" y="-10" width="5" height="20" rx="2" class="e"/>
<rect x="284" y="-10" width="5" height="20" rx="2" class="e"/>
<rect x="298" y="-10" width="4" height="20" rx="1" class="e"/>
<rect x="475" y="-10" width="3" height="20" rx="1" class="e"/>
<rect x="532" y="-10" width="2" height="20" rx="1" class="e"/>
<rect x="536" y="-10" width="2" height="20" rx="1" class="e"/>
<rect x="723" y="-10" width="4" height="20" rx="1" class="e"/>
<rect x="735" y="-10" width="6" height="20" rx="2" class="e"/>
<rect x="897" y="-10" width="4" height="20" rx="1" class="e"/>
<rect x="914" y="-10" width="3" height="20" rx="1" class="e"/>
<rect x="972" y="-10" width="4" height="20" rx="1" class="e"/>
<rect x="980" y="-10" width="4" height="20" rx="1" class="e"/>
<rect x="1025" y="-10" width="9" height="20" rx="3" class="e"/>
</g>
<!-- ShRDR6a -->
<g transform="translate(0,1167)">
<line x1="350" y1="0" x2="370" y2="0" class="l"/>
<rect x="178" y="-7" width="90" height="14" class="u"/>
<rect x="268" y="-10" width="83" height="20" rx="4" class="e"/>
<rect x="369" y="-10" width="27" height="20" rx="4" class="e"/>
<rect x="396" y="-7" width="20" height="14" class="u"/>
</g>
<!-- ShRDR6b -->
<g transform="translate(0,1212)">
<rect x="179" y="-10" width="56" height="20" rx="4" class="e"/>
</g>

<!-- axis -->
<line x1="178" y1="1261" x2="1190" y2="1261" stroke="#231815" stroke-width="2"/>
<g stroke="#231815" stroke-width="2">
<line x1="179" y1="1252" x2="179" y2="1261"/>
<line x1="240.4" y1="1252" x2="240.4" y2="1261"/>
<line x1="301.8" y1="1252" x2="301.8" y2="1261"/>
<line x1="363.1" y1="1252" x2="363.1" y2="1261"/>
<line x1="424.5" y1="1252" x2="424.5" y2="1261"/>
<line x1="485.9" y1="1252" x2="485.9" y2="1261"/>
<line x1="547.3" y1="1252" x2="547.3" y2="1261"/>
<line x1="608.6" y1="1252" x2="608.6" y2="1261"/>
<line x1="670" y1="1252" x2="670" y2="1261"/>
<line x1="731.4" y1="1252" x2="731.4" y2="1261"/>
<line x1="792.8" y1="1252" x2="792.8" y2="1261"/>
<line x1="854.1" y1="1252" x2="854.1" y2="1261"/>
<line x1="915.5" y1="1252" x2="915.5" y2="1261"/>
<line x1="976.9" y1="1252" x2="976.9" y2="1261"/>
<line x1="1038.3" y1="1252" x2="1038.3" y2="1261"/>
<line x1="1099.6" y1="1252" x2="1099.6" y2="1261"/>
<line x1="1161" y1="1252" x2="1161" y2="1261"/>
</g>
<g class="ax" text-anchor="end">
<text transform="translate(191,1266) rotate(-90)">0 kb</text>
<text transform="translate(252.4,1266) rotate(-90)">2 kb</text>
<text transform="translate(313.8,1266) rotate(-90)">4 kb</text>
<text transform="translate(375.1,1266) rotate(-90)">6 kb</text>
<text transform="translate(436.5,1266) rotate(-90)">8 kb</text>
<text transform="translate(497.9,1266) rotate(-90)">10 kb</text>
<text transform="translate(559.3,1266) rotate(-90)">12 kb</text>
<text transform="translate(620.6,1266) rotate(-90)">14 kb</text>
<text transform="translate(682,1266) rotate(-90)">16 kb</text>
<text transform="translate(743.4,1266) rotate(-90)">18 kb</text>
<text transform="translate(804.8,1266) rotate(-90)">20 kb</text>
<text transform="translate(866.1,1266) rotate(-90)">22 kb</text>
<text transform="translate(927.5,1266) rotate(-90)">24 kb</text>
<text transform="translate(988.9,1266) rotate(-90)">26 kb</text>
<text transform="translate(1050.3,1266) rotate(-90)">28 kb</text>
<text transform="translate(1111.6,1266) rotate(-90)">30 kb</text>
<text transform="translate(1173,1266) rotate(-90)">32 kb</text>
</g>
<text x="150" y="1267" style="font-family:'Liberation Serif',serif;font-size:38px;fill:#231815">5′</text>
<text x="1198" y="1257" style="font-family:'Liberation Serif',serif;font-size:38px;fill:#231815">3′</text>
</svg>
</body></html>
